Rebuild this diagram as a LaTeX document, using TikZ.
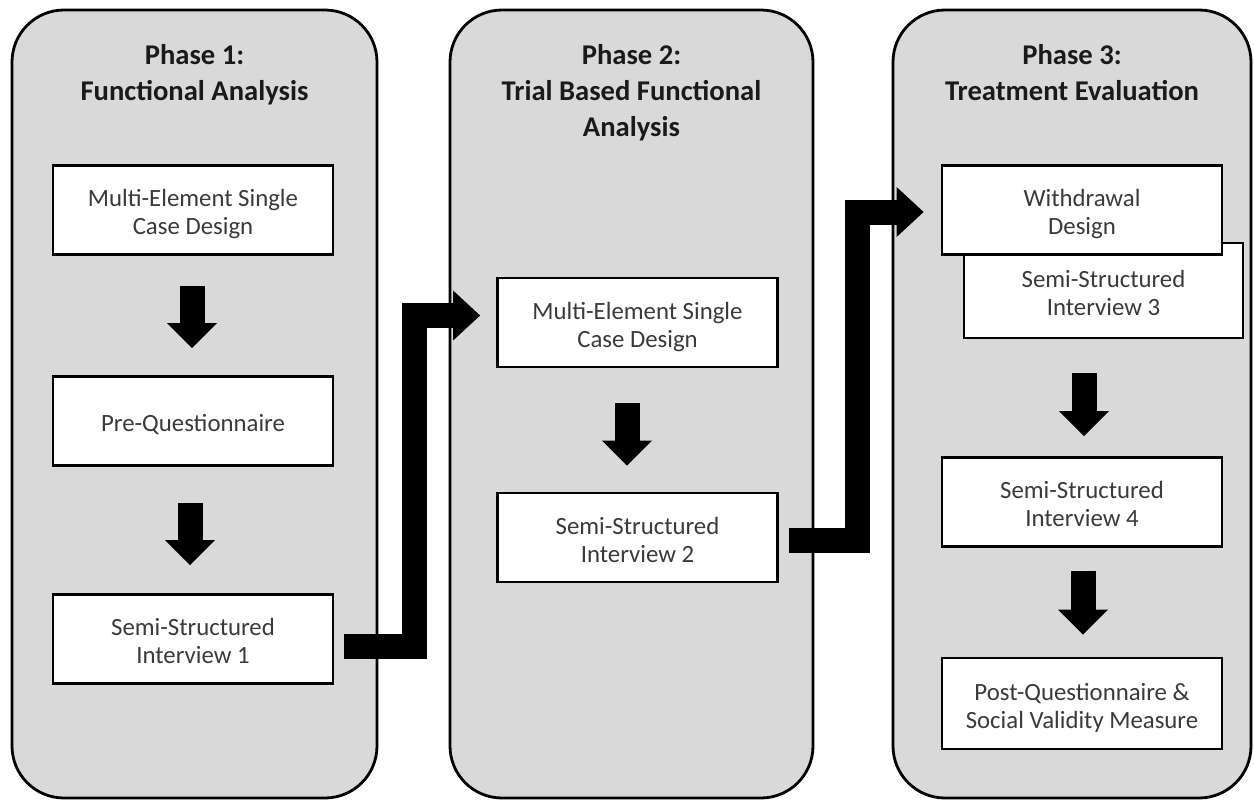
\documentclass[tikz,border=0pt]{standalone}
\usepackage{fontspec}
\setmainfont{Carlito}
\usetikzlibrary{arrows.meta}
\definecolor{panelgray}{HTML}{D9D9D9}
\definecolor{boxtext}{HTML}{3A3A3A}
\definecolor{titletext}{HTML}{1A1A1A}
\newcommand\ts{\vrule width 0pt height 27pt depth 0pt\relax}
\newcommand\bs{\vrule width 0pt height 0pt depth 6pt\relax}
\begin{document}
\lineskiplimit=-100pt
\begin{tikzpicture}[x=1pt,y=-1pt,
  panel/.style={draw=black, line width=2.8pt, fill=panelgray, rounded corners=52pt, inner sep=0pt, minimum height=788pt},
  phasetitle/.style={font=\fontsize{28.6}{36}\selectfont\bfseries, text=titletext, align=center, inner sep=0pt, anchor=north},
  stepbox/.style={draw=black, line width=2.8pt, fill=white, minimum width=280pt, minimum height=89pt, inner sep=0pt, align=center,
    font=\fontsize{24.8}{28}\selectfont, text=boxtext},
  downarrow/.style={line width=25pt, -{Triangle[length=25pt,width=50pt,line width=0pt]}},
  elbowarrow/.style={line width=25pt, line join=miter, -{Triangle[length=27pt,width=50pt,line width=0pt]}}]

\useasboundingbox (0,0) rectangle (1254,801);

% panels
\node[panel, minimum width=365pt] (P1) at (194.5,404) {};
\node[panel, minimum width=363pt] (P2) at (631.5,404) {};
\node[panel, minimum width=358pt] (P3) at (1072,404) {};

% titles
\node[phasetitle] (T1) at ([yshift=-36pt]P1.north) {Phase 1:\\Functional Analysis};
\node[phasetitle] (T2) at ([yshift=-36pt]P2.north) {Phase 2:\\Trial Based Functional\\Analysis};
\node[phasetitle] (T3) at ([yshift=-36pt]P3.north) {Phase 3:\\Treatment Evaluation};

% phase 1 boxes
\node[stepbox] (mesd1) at (193,210) {\ts Multi-Element Single\\Case Design\bs};
\node[stepbox] (preq) at (193,421) {\ts Pre-Questionnaire\bs};
\node[stepbox] (ssi1) at (193,639) {\ts Semi-Structured\\Interview 1\bs};

% phase 2 boxes
\node[stepbox] (mesd2) at (637.5,322.5) {\ts Multi-Element Single\\Case Design\bs};
\node[stepbox] (ssi2) at (637.5,537.5) {\ts Semi-Structured\\Interview 2\bs};

% phase 3 boxes
\node[stepbox, minimum width=279pt, minimum height=95pt] (ssi3) at (1103.5,290.5) {\ts Semi-Structured\\Interview 3\bs};
\node[stepbox] (wd) at (1082,210) {\ts Withdrawal\\Design\bs};
\node[stepbox] (ssi4) at (1082,502) {\ts Semi-Structured\\Interview 4\bs};
\node[stepbox, minimum height=91pt] (post) at (1082,703.5) {\ts Post-Questionnaire \&\\Social Validity Measure\bs};

% vertical arrows
\draw[downarrow] ([xshift=-1pt,yshift=-30pt]mesd1.south) -- ([xshift=-1pt,yshift=27pt]preq.north);
\draw[downarrow] ([xshift=-3pt,yshift=-36pt]preq.south) -- ([xshift=-3pt,yshift=28pt]ssi1.north);
\draw[downarrow] ([xshift=-10.5pt,yshift=-35pt]mesd2.south) -- ([xshift=-10.5pt,yshift=26pt]ssi2.north);
\draw[downarrow] ([xshift=-19.5pt,yshift=-34pt]ssi3.south) -- ([xshift=2pt,yshift=20pt]ssi4.north);
\draw[downarrow] ([xshift=1pt,yshift=-23pt]ssi4.south) -- ([xshift=1pt,yshift=22pt]post.north);

% elbow arrows between phases
\coordinate (kA) at (414.5,315.5);
\coordinate (kB) at (857.5,212);
\draw[elbowarrow] ([xshift=10pt,yshift=-7pt]ssi1.east) -| (kA) -- ([xshift=-16pt,yshift=7pt]mesd2.west);
\draw[elbowarrow] ([xshift=10pt,yshift=-2.5pt]ssi2.east) -| (kB) -- ([xshift=-17pt,yshift=-2pt]wd.west);
\end{tikzpicture}
\end{document}
